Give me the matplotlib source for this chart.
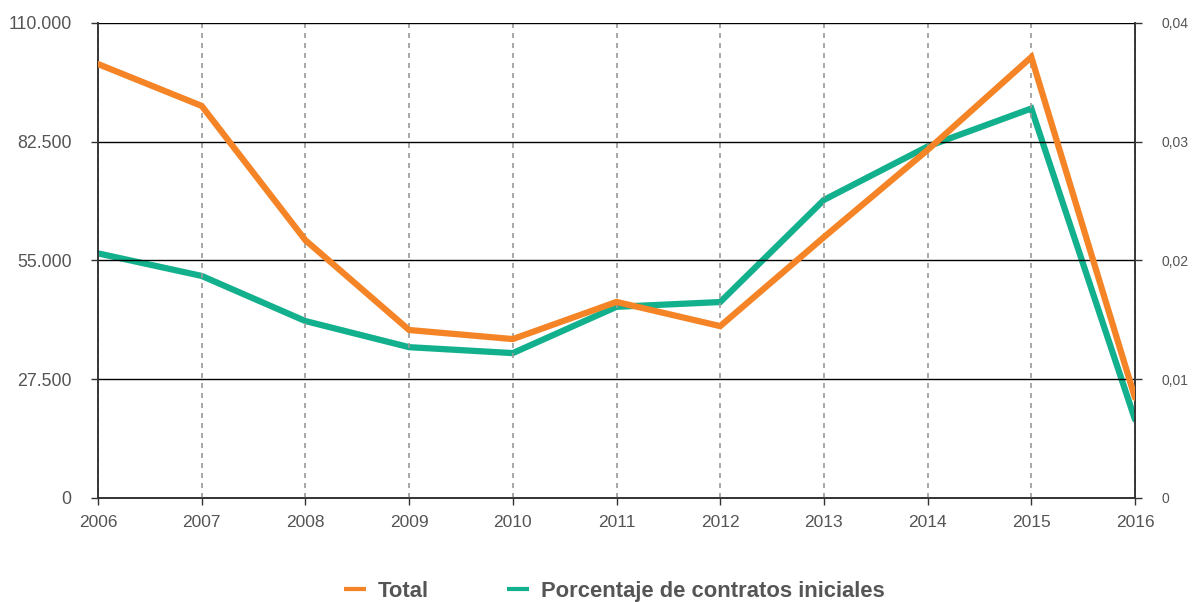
import numpy as np
import matplotlib.pyplot as plt
from matplotlib.ticker import FuncFormatter

years = [2006, 2007, 2008, 2009, 2010, 2011, 2012, 2013, 2014, 2015, 2016]
total = [100500, 90800, 59700, 38900, 36800, 45400, 39800, 60400, 80600, 102100, 23200]
porcentaje = [0.0206, 0.0187, 0.0149, 0.0127, 0.0122, 0.0161, 0.0165, 0.0251, 0.0296, 0.0328, 0.0066]

left_ticks = [0, 27500, 55000, 82500, 110000]
right_ticks = [0, 0.01, 0.02, 0.03, 0.04]

orange = '#f58426'
green = '#12b08c'
gray_txt = '#555555'

plt.rcParams['font.family'] = ['Liberation Sans', 'DejaVu Sans']

fig = plt.figure(figsize=(11.92, 6.02), dpi=100)
ax = fig.add_axes([0.0822, 0.1728, 0.87, 0.7890])
ax2 = ax.twinx()

for y in years:
    ax.axvline(y, color='#999999', lw=1.2, ls=(0, (3, 3)), zorder=0)
for t in left_ticks[1:]:
    ax.axhline(t, color='black', lw=1, zorder=0)

l1, = ax.plot(years, total, color=orange, lw=4.5, solid_capstyle='round', solid_joinstyle='miter', zorder=3)
l2, = ax2.plot(years, porcentaje, color=green, lw=4.5, solid_capstyle='round', solid_joinstyle='miter', zorder=2)
ax.set_zorder(ax2.get_zorder() + 1)
ax.patch.set_visible(False)

ax.set_xlim(2006, 2016)
ax.set_ylim(0, 110000)
ax2.set_ylim(0, 0.04)
ax.set_xticks(years)
ax.set_yticks(left_ticks)
ax2.set_yticks(right_ticks)

ax.yaxis.set_major_formatter(FuncFormatter(lambda v, p: '{:,.0f}'.format(v).replace(',', '.')))
ax2.yaxis.set_major_formatter(FuncFormatter(lambda v, p: '0' if v == 0 else '{:.2f}'.format(v).replace('.', ',')))

for a in (ax, ax2):
    for s in a.spines.values():
        s.set_color('#333333')
        s.set_linewidth(1.2)
    a.spines['top'].set_visible(False)
ax.tick_params(axis='x', length=5, width=1, colors='#333333', labelcolor=gray_txt, labelsize=12.5, pad=7)
ax.tick_params(axis='y', length=5, width=1, colors='#333333', labelcolor=gray_txt, labelsize=12.8, pad=14)
ax2.tick_params(axis='y', length=5, width=1, colors='#333333', labelcolor=gray_txt, labelsize=10, pad=14)

leg = fig.legend([l1, l2], ['Total', 'Porcentaje de contratos iniciales'], loc='lower center',
                 bbox_to_anchor=(0.5155, -0.032), ncol=2, frameon=False, handlelength=1.0,
                 handletextpad=0.55, columnspacing=3.55, prop={'weight': 'bold', 'size': 15.8})
for txt in leg.get_texts():
    txt.set_color(gray_txt)
for h in leg.legend_handles:
    h.set_linewidth(3)
    h.set_solid_capstyle('butt')

fig.savefig('out.png', dpi=100)
